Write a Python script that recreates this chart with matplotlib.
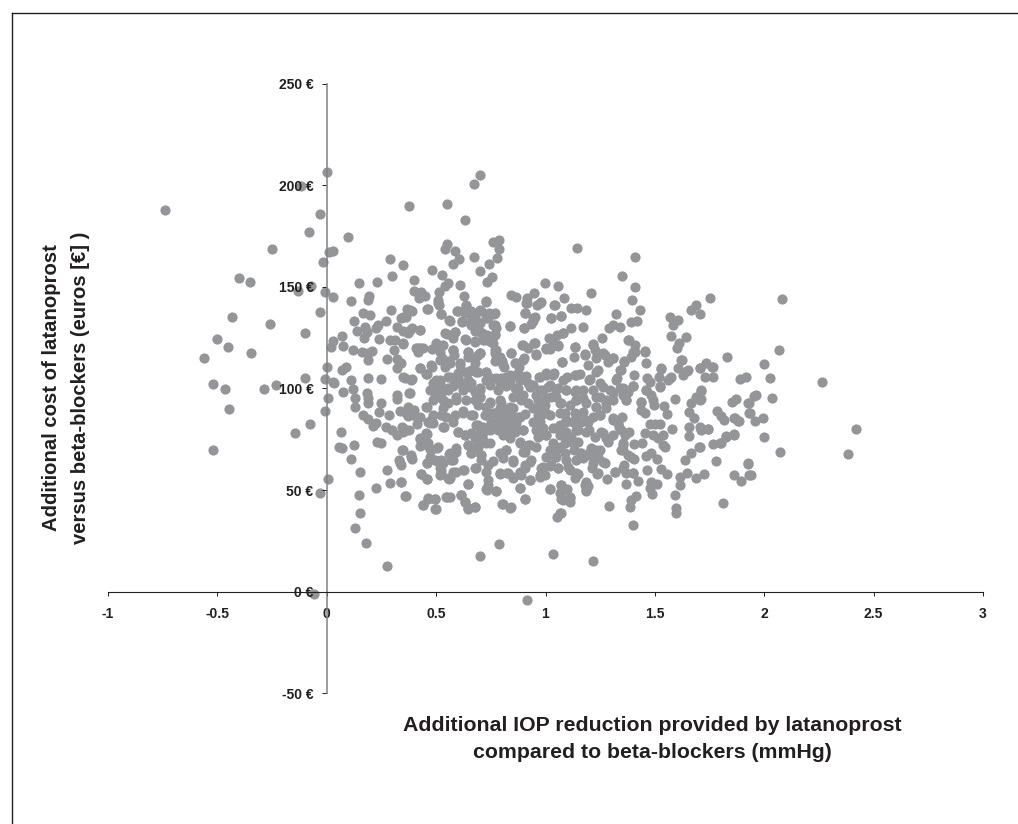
import matplotlib
matplotlib.use("Agg")
import matplotlib.pyplot as plt
from matplotlib.lines import Line2D

plt.rcParams['font.family'] = ['Liberation Sans', 'DejaVu Sans']

x_ticks = [-1, -0.5, 0, 0.5, 1, 1.5, 2, 2.5, 3]
x_tick_labels = ['-1', '-0.5', '0', '0.5', '1', '1.5', '2', '2.5', '3']
y_ticks = [-50, 0, 50, 100, 150, 200, 250]
y_tick_labels = ['-50 €', '0 €', '50 €', '100 €', '150 €', '200 €', '250 €']
x_title = 'Additional IOP reduction provided by latanoprost\ncompared to beta-blockers (mmHg)'
y_title = 'Additional cost of latanoprost\nversus beta-blockers (euros [€] )'

upper_left = [
(0.00,206.7),(-0.12,199.9),(-0.74,188),(0.375,189.8),(0.55,191),(-0.03,185.7),(-0.08,176.9),(0.096,174.6),
(-0.25,168.7),(0.03,167.7),(0.01,167),(-0.018,162.3),(0.29,163.8),(0.347,161),(0.55,171),(0.54,168.7),
(0.48,158.2),(0.525,155.9),(0.30,155.4),(0.40,153.4),(-0.40,154.3),(-0.35,152.3),(0.146,152.1),(0.23,152.6),
(-0.13,148),(-0.07,150.2),(-0.006,147.7),(0.03,145.2),(0.11,143.1),(0.195,145.6),(0.19,143.4),(-0.03,137.7),
(-0.435,135.1),(-0.26,131.8),(-0.10,127.4),(-0.50,124.6),(-0.45,120.6),(-0.347,117.4),(-0.563,115.1),
(0.295,138.8),(0.166,137.2),(0.196,136.4),(0.125,133.1),(0.27,133.1),(0.367,139.2),(0.39,138.3),(0.46,139),
(0.52,136.5),(0.34,134.6),(0.364,135.4),(0.234,131.3),(0.224,130),(0.175,130.3),(0.14,128.5),(0.185,127.7),
(0.168,124.9),(0.32,130.5),(0.35,128.5),(0.373,127.4),(0.39,129.8),(0.424,129),(0.07,125.7),(0.03,123.3),
(0.02,120.3),(0.075,120.8),(0.238,124.2),(0.29,123.9),(0.31,123.9),(0.35,122.1),(0.12,118.8),(0.16,118.2),
(0.205,118.3),(0.19,117.4),(0.306,119),(0.19,114.1),(0.417,119.8),(0.417,118.2),(0.44,119.8),(0.483,119.3),
(0.51,121.5),(0.516,118.2),(0.55,126.7),(0.513,147.7),(0.51,143.6),(0.513,141.1),(0.54,150.2),(0.555,151.8),
(0.40,148.2),(0.43,147.4),(0.448,145.7),(0.42,144.7),(0.277,114.4),(0.32,114.4),(0.337,112.4),(0.32,110),
(0.002,110.5),(0.07,109),(0.09,110.5),(0.424,110),(0.46,107.2),(0.483,110.8),(0.525,114.9),(0.54,110.8),
(0.555,113.3),(-0.10,105.2),(-0.006,104.6),(0.03,103.4),(0.11,104.2),(0.19,105.2),(0.25,104.6),(0.35,105.6),
(0.39,104.8),(0.517,104.2),(0.555,105.9),
]

lower_left = [
(-0.52,102.2),(-0.464,99.6),(-0.285,99.6),(-0.23,101.9),(-0.446,90.1),(0.006,95.5),(-0.01,89.1),(0.034,102.6),
(0.075,98.3),(0.12,99.6),(0.13,95.3),(0.13,90.8),(0.183,97.6),(0.19,95.5),(0.19,93),(0.25,93),(0.238,88.3),
(0.286,87.1),(0.32,96.8),(0.32,94.7),(0.376,98),(0.337,89.1),(0.372,90.8),(0.40,89.4),(0.372,86.5),(0.417,85.3),
(0.413,82.4),(0.166,87),(0.19,85),(0.224,82.9),(0.21,81.6),(0.27,81.2),(0.296,79.6),(0.346,81.2),(0.35,78.8),
(0.376,79.6),(0.32,77.1),(-0.075,82.4),(-0.143,78),(0.067,78.5),(-0.52,69.9),(0.055,71.4),(0.07,70.9),(0.125,72.2),
(0.23,73.5),(0.247,73),(0.343,69.8),(0.387,67.1),(0.39,65.5),(0.11,65.2),(0.33,64.8),(0.34,62.4),(0.15,59.1),
(0.274,59.8),(0.006,55.5),(0.29,53.5),(0.338,54),(0.227,51),(-0.03,48.8),(0.146,47.8),(0.36,47.1),(0.153,38.6),
(0.127,31.4),(0.18,24.2),(0.274,12.7),(-0.058,-1.3),(0.433,57.8),(0.46,55.7),(0.44,42.5),(0.463,45.8),(0.497,45.5),
(0.497,40.9),(0.55,46.6),(0.456,63.2),(0.505,64.2),(0.53,63.2),(0.52,59.9),(0.516,57.5),(0.555,55.8),(0.56,67.8),
(0.47,66.5),(0.505,70.9),(0.47,70.1),(0.425,71.7),(0.425,75.2),(0.46,77.6),(0.45,73.9),(0.456,72.2),(0.463,83.7),
(0.486,83.2),(0.535,81.2),(0.456,90.8),(0.486,87),(0.53,90.3),(0.524,87),(0.547,86.2),(0.555,92.7),(0.486,99.3),
(0.494,96),(0.516,100.9),(0.524,97.6),(0.555,99.3),
]

upper_centre = [
(0.70,205.1),(0.675,200.8),(0.63,183.1),(0.787,173.1),(0.76,172),(0.787,168.5),(0.78,164.1),(0.585,167.9),
(0.605,163.8),(0.577,161.3),(0.675,164.8),(0.74,161.1),(0.70,157.7),(0.754,155.1),(0.733,152.6),(0.608,151),
(0.626,145.7),(1.142,168.9),(1.407,164.6),(1.348,155.2),(1.407,150),(0.996,151.8),(1.055,150.5),(1.206,146.9),
(1.086,144.7),(0.84,145.9),(0.863,145.1),(0.947,146.9),(0.915,144.7),(0.915,142),(0.978,142.5),(0.96,141.1),
(0.905,137.2),(1.04,141.1),(1.118,139.7),(1.142,139.7),(1.185,138.7),(1.396,143.6),(1.43,138.8),(1.32,136.6),
(1.07,135.9),(1.026,134.6),(0.95,135.4),(0.943,133.4),(0.935,131.8),(0.836,130.8),(0.90,129.7),(1.118,129.7),
(1.173,130.5),(1.29,129.7),(1.308,131.3),(1.34,130.5),(1.39,132.8),(1.42,133.1),(1.57,135.2),(1.604,133.6),
(1.582,131.3),(1.663,138.5),(1.687,141),(1.704,136.9),(1.75,144.7),(0.728,143.1),(0.635,140.8),(0.60,138.2),
(0.653,137),(0.707,138.2),(0.74,137.4),(0.765,136.9),(0.676,135.4),(0.565,133.3),(0.62,132.6),(0.656,132.9),
(0.737,134.6),(0.76,131.3),(0.775,129.7),(0.767,126.9),(0.676,128.3),(0.585,128),(0.71,127.2),(0.577,124.7),
(0.635,124.1),(0.676,123.3),(0.714,123.9),(0.752,123.1),(0.775,119),(0.577,119),(0.645,118.2),(0.70,117.4),
(0.58,116.5),(0.676,114.9),(0.767,117.4),(0.767,113.3),(0.608,111.6),(0.80,113.3),(0.81,110.8),(0.844,117.4),
(0.859,112.4),(0.90,114.9),(0.88,110.8),(0.955,116.7),(0.894,121.5),(0.92,119.8),(0.949,122.6),(1.0,119.5),
(1.016,124.7),(1.052,126.4),(1.08,127.5),(1.034,122.3),(1.057,121),(1.019,119.3),(1.077,112.8),(1.136,120.6),
(1.129,115.7),(1.18,117),(1.217,121.8),(1.26,124.9),(1.224,119),(1.232,114.9),(1.27,116.5),(1.308,114.9),
(1.285,112.9),(1.194,111.6),(1.24,109.2),(1.377,124.1),(1.409,121.5),(1.453,118.3),(1.407,118.2),(1.39,115.7),
(1.358,112.8),(1.339,109.2),(1.46,112.4),(1.526,109.7),(1.575,125.9),(1.64,125.1),(1.608,122.3),(1.602,120.1),
(1.623,114.1),(1.605,110),(1.646,108.8),(1.575,105.9),(1.521,105.6),(1.735,112.4),(1.704,110),(1.765,110.5),
(1.727,105.9),(1.765,105.9),(1.829,115.7),(1.887,104.6),(1.917,105.9),(1.404,106.7),(1.463,105.1),(1.326,105.1),
(1.205,104.7),(1.159,107.2),(1.133,106.7),(1.10,105.9),(1.037,107.5),(1.0,106.7),(0.968,105.9),(0.912,106.2),
(0.874,107.5),(0.836,106.7),(0.798,105.1),(0.752,105.1),(0.726,108.3),(0.684,108.3),(0.646,108.3),(0.60,107.5),
]

lower_centre = [
(0.914,-4),(0.699,17.8),(0.789,23.3),(1.032,18.4),(1.217,15.1),(1.398,32.9),(1.596,38.9),(1.598,41),(1.812,43.7),
(1.052,37),(1.069,38.9),(1.291,42.4),(1.387,41.9),(1.392,45.2),(1.412,47.3),(1.59,47.5),(1.488,48.1),(1.476,50.9),
(1.509,52.9),(1.483,54.2),(1.613,52.4),(1.617,56.6),(1.648,58.3),(1.689,56.1),(1.724,57.8),(1.861,57.3),(1.894,54.5),
(1.925,63.2),(1.93,57.5),(1.78,64.3),(1.637,64.8),(1.666,68.1),(1.70,71.1),(1.765,72.5),(1.80,73.4),(1.826,76.3),
(1.861,77.5),(1.655,76.6),(1.658,81.2),(1.704,81.2),(1.712,79.6),(1.745,79.9),(1.58,79.9),(1.785,89.1),(1.803,86.5),
(1.818,84.5),(1.864,85.3),(1.884,84),(1.853,93.5),(1.872,94.9),(1.925,92.7),(1.932,88.1),(1.592,94.9),(1.712,98.8),
(1.689,96),(1.666,93),(1.704,94.4),(1.658,88.6),(1.678,85.7),(1.54,91.4),(1.556,87.3),(1.524,82.4),(1.479,82.4),
(1.502,82.4),(1.381,78.8),(1.453,78),(1.49,77.1),(1.537,77.1),(1.514,75.5),(1.537,72.2),(1.544,71.4),(1.442,73.4),
(1.404,72.5),(1.354,72.2),(1.346,69.8),(1.377,67.3),(1.403,65.3),(1.46,66.8),(1.483,68.1),(1.509,65.3),(1.465,60.1),
(1.526,60.4),(1.556,57.8),(1.319,58.8),(1.354,60.7),(1.369,58.3),(1.40,58.3),(1.282,55.3),(1.369,53),(1.425,54.3),
(1.27,63.2),(1.237,57.8),(1.212,60.7),(1.185,54.2),(1.194,52),(1.186,49.8),(1.148,58),(1.133,55.8),(1.11,59.9),
(1.057,60.7),(1.019,61.9),(0.98,60.7),(0.973,56.6),(0.996,57.5),(0.929,55),(0.885,51),(0.905,45.7),(1.022,50.7),
(1.069,52.5),(1.10,50.6),(1.072,49.3),(1.072,45.5),(1.113,46.5),(1.11,44),(0.774,49.8),(0.73,50.4),(0.737,55),
(0.79,57.8),(0.824,58.3),(0.851,56.3),(0.89,57.5),(0.905,60.7),(0.927,64),(0.646,52.9),(0.615,47.6),(0.63,44.3),
(0.646,41),(0.676,41.9),(0.80,43.2),(0.836,41),(0.562,46.5),(0.562,55.8),(0.589,59.1),(0.626,59.9),(0.679,60.7),
(0.73,59.1),(0.76,64.3),(0.707,67.3),(0.661,68.1),(0.592,68.9),(0.577,64.8),(0.806,65.7),(0.851,64),(0.82,69.8),
(0.882,73.9),(0.905,68.9),(0.927,72.2),(0.646,72.2),(0.699,74.7),(0.73,73),(0.69,71.4),(0.60,78.8),(0.63,77.1),
(0.661,78),(0.684,82.1),(0.714,78),(0.76,82.9),(0.79,85.3),(0.82,83.7),(0.859,82.9),(0.79,81.2),(0.828,79.6),
(0.859,79.6),(0.897,79.6),(0.806,77.1),(0.836,75.5),(0.76,87.8),(0.798,92.7),(0.745,92.7),(0.783,88.6),(0.82,89.4),
(0.851,90.3),(0.874,86.2),(0.905,87.3),(0.722,87),(0.661,87),(0.623,89.1),(0.585,87),(0.577,83.7),(0.676,94.4),
(0.691,91.9),(0.592,96),(0.653,100.9),(0.623,102.6),(0.585,102.6),(0.699,99.3),(0.702,96),(0.745,101.7),(0.79,102.6),
(0.836,103.4),(0.874,100.1),(0.889,96.8),(0.927,100.9),(0.973,99.3),(1.011,100.9),(0.965,94.4),(1.004,95.2),
(0.973,91.1),(0.996,91.9),(0.965,87),(1.004,87.8),(0.973,83.7),(0.958,79.6),(0.965,76.3),(1.004,77.1),(1.034,80.4),
(1.064,82.1),(1.095,83.7),(1.087,87.8),(1.072,92.7),(1.11,91.9),(1.141,94.4),(1.171,95.2),(1.133,98.5),(1.095,99.3),
(1.057,100.1),(1.049,96),(1.171,99.3),(1.217,99.3),(1.262,100.9),(1.308,97.6),(1.278,94.4),(1.232,96),(1.232,91.1),
(1.278,90.3),(1.247,87),(1.217,86.2),(1.171,88.6),(1.133,87.8),(1.163,83.7),(1.194,83.7),(1.125,83.7),(1.148,79.6),
(1.186,78.8),(1.095,78.8),(1.064,77.1),(1.118,76.3),(1.087,73),(1.034,73),(1.049,69.8),(1.019,69.8),(1.13,69.8),
(1.148,73.9),(1.087,68.1),(1.042,66.5),(1.171,65.7),(1.2,67.3),(1.232,69.8),(1.21,70.6),(1.24,66.5),(1.163,68.1),
(1.14,64.8),(1.224,76.3),(1.255,78.8),(1.285,73.9),(1.308,77.1),(1.278,75.5),(1.308,85.3),(1.349,86.2),(1.331,82.9),
(1.362,77.1),(1.346,79.6),(1.369,94.4),(1.354,96.8),(1.40,101.2),(1.377,98.5),(1.438,89.4),(1.453,87.8),(1.438,93.5),
(1.483,96.8),(1.46,99.3),(1.494,91.9),(1.524,100.9),(1.476,103.4),(1.56,104.2),(1.339,100.1),
]

right_tail = [
(2.08,144),(2.066,119.1),(2.0,111.9),(1.762,110.4),(2.027,105),(2.263,103.4),(2.037,95.3),(1.955,96.5),(1.963,96.8),
(1.932,92.7),(1.935,88),(1.996,85.7),(1.958,84.2),(1.882,84),(1.861,85.7),(2.0,76.3),(1.861,77.3),(1.826,76.6),
(1.798,73),(1.745,80.1),(1.712,80.1),(1.704,71),(2.07,68.9),(2.418,80.3),(2.382,67.8),(1.926,63),(1.94,57.6),
(1.712,99.3),(1.712,94.7),
]

dense_core = [
(0.516,102.6),(0.554,100.1),(0.486,94.4),(0.531,94.4),(0.60,105.9),(0.577,101),(0.646,104.2),(0.699,100.1),(0.661,109.2),
(0.73,108.3),(0.623,99.3),(0.592,94.4),(0.676,98.5),(0.745,93.6),(0.79,94.4),(0.775,105),(0.836,105.9),(0.882,104.2),
(0.851,96),(0.897,96.9),(0.821,101),(0.943,101.8),(0.988,99.3),(1.034,106.7),(0.973,105.9),(1.08,104.2),(1.064,92.8),
(1.026,96),(0.92,92.8),(0.866,112.4),(0.897,114),(0.844,117.4),(0.955,116.9),(0.897,121.5),(0.95,122.6),(1.0,119.8),
(1.057,121.5),(1.08,127.2),(1.075,112.9),(0.79,115.7),(0.806,111.6),(0.767,119),(0.73,123.9),(0.646,118.2),(0.699,117.4),
(0.676,123.1),(0.633,124.2),(0.577,119),(0.531,121.5),(0.50,122.3),(0.425,119.8),(0.478,111.6),(0.425,110),(0.455,107.2),
(0.356,105),(0.387,104.2),(0.38,97.7),(0.34,112.4),(0.349,122.3),(0.379,128.8),(0.425,128.8),(0.539,127.2),(0.585,128),
(0.559,133.8),(0.52,136.7),(0.596,138.2),(0.463,139),(0.379,138.7),(0.349,135.4),(0.62,133),(0.66,137.9),(0.66,131.3),
(0.699,138.7),(0.767,137),(0.73,134.6),(0.767,131.3),(0.699,128),(0.733,126.4),(0.836,130.8),(0.90,129.7),(0.943,134.6),
(0.905,137),(1.026,134.6),(1.069,135.9),(1.042,141.1),(0.973,142),(0.912,142),(0.73,142.8),(0.638,141.1),(0.509,142),
]

core_low_left = [
(0.73,86.9),(0.768,87.8),(0.806,86.9),(0.844,87.4),(0.882,86.1),(0.752,83.7),(0.79,83.7),(0.828,83.7),(0.867,82.8),
(0.714,81.2),(0.745,79.6),(0.783,79.6),(0.821,79.6),(0.859,78.7),(0.897,79.6),(0.691,82),(0.676,75.5),(0.714,74.6),
(0.745,73),(0.684,71.4),(0.699,77.9),(0.425,75.5),(0.455,77.9),(0.463,73),(0.478,69.7),(0.509,71.4),(0.425,86.1),
(0.364,87.8),(0.394,86.9),(0.478,84.5),(0.47,82.8),(0.531,81.2),(0.6,78.7),(0.63,77.1),(0.669,86.9),(0.623,87.8),
(0.562,68.1),(0.592,70.5),(0.646,72.2),(0.661,68.1),(0.57,64.8),(0.707,67.3),(0.707,64.8),(0.737,62.3),(0.79,68.1),
(0.821,69.7),(0.851,64.8),(0.882,73),(0.92,72.2),(0.897,68.9),(0.935,64.8),(0.905,62.3),(0.882,59),(0.988,61.5),
(1.026,62.3),(1.057,60.7),(0.973,57.4),(0.79,58.2),(0.828,58.2),(0.851,55.8),(0.927,55),(0.737,52.5),(0.733,50),
(0.775,49.7),(0.882,50.9),(0.905,45.6),(1.019,50.5),(1.072,52.5),(1.064,48.4),(1.08,45.1),(1.064,38.6),(0.364,79.6),
(0.349,80.4),(0.349,69.7),(0.387,66.4),(0.334,63.2),(0.458,63.2),(0.493,64.8),(0.524,64.8),(0.524,58.2),(0.516,60.7),
(0.432,57.9),(0.458,55.5),(0.559,55.3),(0.577,59),(0.623,59.9),(0.681,60.7),(0.646,53),(0.341,54.1),(0.356,47.1),
(0.615,47.6),(0.63,44.3),(0.646,40.5),(0.676,41.5),(0.547,46.4),(0.493,45.6),(0.463,45.9),(0.44,42.7),(0.498,40.7),
(0.806,43.1),(0.844,41.5),(0.988,80.4),(0.966,77.9),(1.004,77.1),(1.049,80.4),(1.08,77.1),(1.095,73.8),(1.064,71.4),
(1.034,69.7),(1.004,66.4),(0.958,71.4),(0.943,83.7),(0.973,86.1),(1.019,86.9),(1.064,87.8),(1.095,84.5),(1.049,66.4),
(1.095,64.8),(1.103,61.5),
]

core_up_left = [
(0.486,102.6),(0.516,96),(0.562,105.9),(0.516,114.1),(0.562,112.4),(0.608,112.4),(0.638,108.3),(0.691,108.3),(0.6,102.6),
(0.661,102.6),(0.73,104.2),(0.699,96),(0.638,94.4),(0.783,99.3),(0.821,105.9),(0.866,106.7),(0.92,102.6),(0.958,96.9),
(0.859,100.1),(0.889,94.4),(0.988,94.4),(1.019,101.8),(1.049,99.3),(1.095,99.3),(1.004,107.5),(0.836,91.1),(0.79,90.3),
(0.943,90.3),(0.73,91.1),(0.455,91.1),(0.47,99.3),(0.501,104.2),(0.676,112.4),(0.646,115.7),(0.691,116.5),(0.775,116.5),
(0.76,122.3),(0.767,126.4),(0.699,132.1),(0.669,134.6),(0.63,137),(0.41,119.8),
]

core_right = [
(1.14,99.3),(1.201,104.2),(1.247,102.6),(1.293,99.3),(1.247,96),(1.278,92.8),(1.232,91.1),(1.308,94.4),(1.186,92.8),
(1.14,94.4),(1.369,94.4),(1.354,100.1),(1.399,101),(1.46,99.3),(1.437,93.6),(1.491,94.4),(1.323,104.2),(1.346,109.2),
(1.361,113.3),(1.232,108.3),(1.14,106.7),(1.179,116.5),(1.133,120.6),(1.217,121.5),(1.262,117.4),(1.308,114.9),
(1.399,118.2),(1.453,118.2),(1.381,123.9),(1.529,110),(1.524,101),(1.567,105),(1.628,106.7),(1.651,109.2),(1.62,114.1),
(1.704,110),(1.14,86.1),(1.186,84.5),(1.247,86.9),(1.308,84.5),(1.338,81.2),(1.14,79.6),(1.201,79.6),(1.262,77.9),
(1.125,73),(1.156,68.1),(1.201,68.1),(1.247,69.7),(1.217,63.2),(1.262,64),(1.239,58.2),(1.14,58.2),(1.179,52.5),
(1.186,50),(1.11,45.9),(1.285,74.6),(1.354,73),(1.354,69.7),(1.392,66.4),(1.316,59.1),(1.361,62.3),(1.399,58.2),
]

points = (upper_left + lower_left + upper_centre + lower_centre + right_tail + dense_core
          + core_low_left + core_up_left + core_right)
iop_reduction = [p[0] for p in points]
added_cost = [p[1] for p in points]

W, H = 1018, 824
fig = plt.figure(figsize=(W / 100, H / 100), dpi=100, facecolor='white')
ax = fig.add_axes([108 / W, (H - 693.3) / H, 875 / W, (693.3 - 83.7) / H])
ax.set_xlim(-1, 3)
ax.set_ylim(-50, 250)

ax.scatter(iop_reduction, added_cost, s=54, c='#939598', linewidths=0, zorder=1, clip_on=False)

for s in ('top', 'right'):
    ax.spines[s].set_visible(False)
ax.spines['left'].set_position(('data', 0))
ax.spines['bottom'].set_position(('data', 0))
ax.spines['left'].set_color('#808184')
ax.spines['left'].set_linewidth(1.1)
ax.spines['bottom'].set_color('#231f20')
ax.spines['bottom'].set_linewidth(0.8)

ax.set_xticks(x_ticks, x_tick_labels)
ax.set_yticks(y_ticks, y_tick_labels)
ax.tick_params(axis='x', direction='out', length=3.2, width=0.7, color='#231f20', pad=7.5,
               labelsize=10, labelcolor='#231f20')
ax.tick_params(axis='y', direction='out', length=3.6, width=0.7, color='#231f20', pad=6,
               labelsize=10, labelcolor='#231f20')
for t in ax.get_xticklabels() + ax.get_yticklabels():
    t.set_fontweight('bold')

fig.text(652 / W, 1 - 739 / H, x_title, ha='center', va='center', fontsize=15.3, fontweight='bold',
         color='#231f20', linespacing=1.55)
fig.text(66 / W, 1 - 388 / H, y_title, ha='center', va='center', rotation=90, fontsize=14.6,
         fontweight='bold', color='#231f20', linespacing=1.62, multialignment='center')

fig.add_artist(Line2D([11.5 / W, 11.5 / W], [0, 1 - 12.5 / H], color='#231f20', lw=1.0))
fig.add_artist(Line2D([11.5 / W, 1], [1 - 12.5 / H, 1 - 12.5 / H], color='#231f20', lw=1.0))

fig.savefig('out.png', dpi=100, facecolor='white')
